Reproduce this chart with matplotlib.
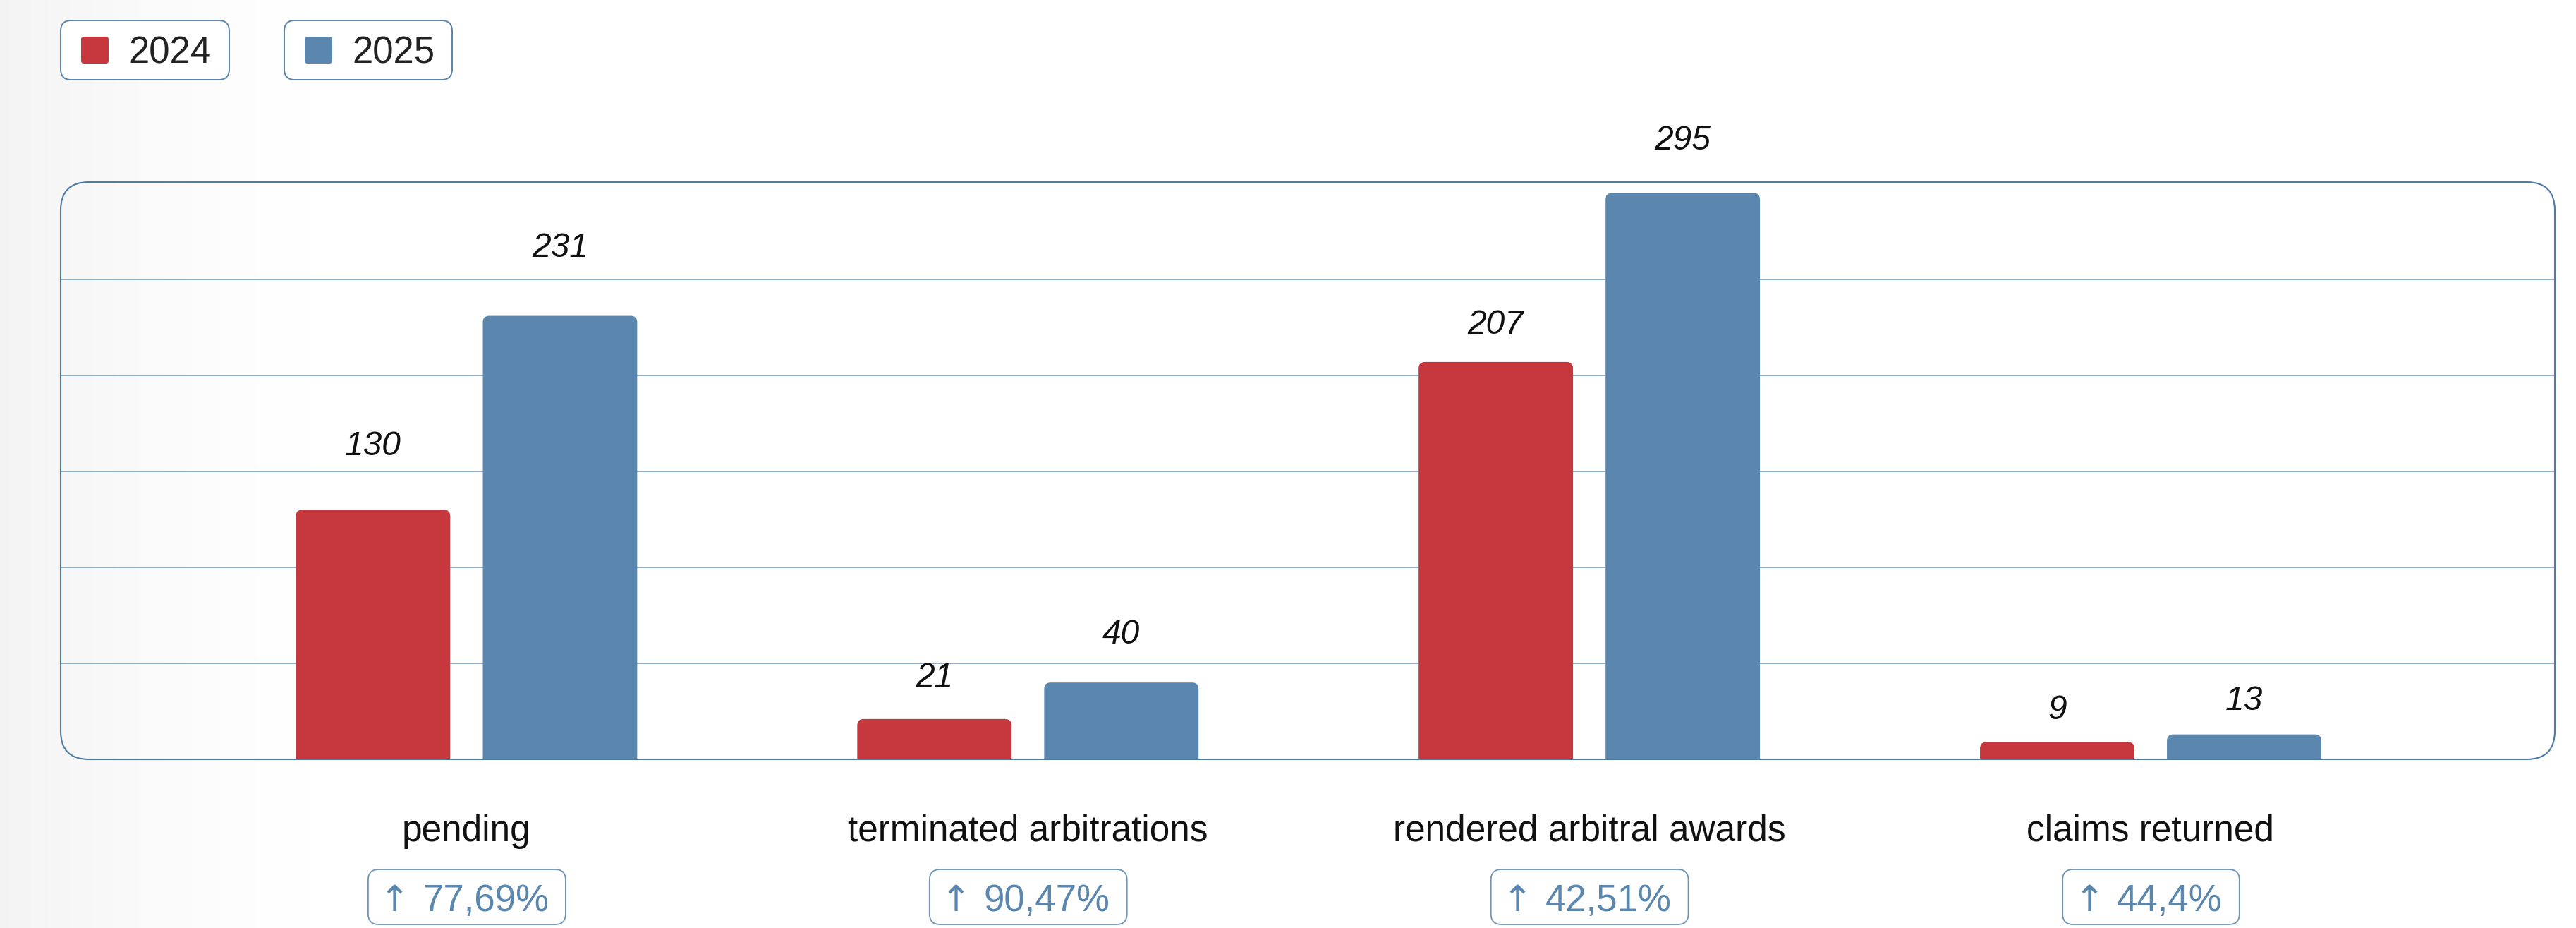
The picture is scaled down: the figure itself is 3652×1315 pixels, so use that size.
import numpy as np
import matplotlib
matplotlib.use("Agg")
import matplotlib.pyplot as plt
from matplotlib.patches import FancyBboxPatch

plt.rcParams['font.family'] = ['Liberation Sans', 'DejaVu Sans']

# data
categories = ['pending', 'terminated arbitrations', 'rendered arbitral awards', 'claims returned']
series_names = ['2024', '2025']
values_2024 = [130, 21, 207, 9]
values_2025 = [231, 40, 295, 13]
changes = ['77,69%', '90,47%', '42,51%', '44,4%']
grid_values = [50, 100, 150, 200, 250]

# style
red = '#C6383E'
blue = '#5B86AD'
frame_col = '#4F7BA4'
grid_col = '#7F9EBF'
W, H, DPI = 3652, 1315, 100

fig = plt.figure(figsize=(W / DPI, H / DPI), dpi=DPI)
fig.patch.set_facecolor('white')

# soft grey fade on the left edge
bg = fig.add_axes([0, 0, 1, 1], zorder=-10)
xs = np.linspace(0, 1, W)
fade = np.clip(xs / 0.12, 0, 1)
shade = 1 - 0.045 * (1 - fade) ** 1.4
img = np.stack([shade, shade, shade], axis=-1)[np.newaxis, :, :]
bg.imshow(np.repeat(img, 2, axis=0), extent=[0, 1, 0, 1], aspect='auto')
bg.set_xlim(0, 1)
bg.set_ylim(0, 1)
bg.axis('off')

# plot frame (pixels)
left, right, top, bottom = 86, 3622, 258, 1076
ax = fig.add_axes([left / W, (H - bottom) / H, (right - left) / W, (bottom - top) / H])
ax.set_facecolor('none')
ax_w, ax_h = right - left, bottom - top

x = np.arange(len(categories))
width = 0.275
off = 0.1665
ax.set_xlim(-0.723, 3.72)
ax.set_ylim(0, 300.7)

ax.set_yticks(grid_values)
ax.grid(axis='y', color=grid_col, linewidth=1.2)
ax.set_axisbelow(True)
ax.tick_params(left=False, bottom=False, labelleft=False, labelbottom=False)
ax.set_xticks([])
for s in ax.spines.values():
    s.set_visible(False)

# data units per pixel, for rounded bar tops
xpp = (3.72 + 0.723) / ax_w
ypp = 300.7 / ax_h
r_px = 9


def rounded_bars(container, color):
    for rect in container:
        rect.set_visible(False)
        bx, bw, bh = rect.get_x(), rect.get_width(), rect.get_height()
        rd = r_px * ypp
        p = FancyBboxPatch((bx, -rd), bw, bh + rd,
                           boxstyle=f'round,pad=0,rounding_size={r_px * xpp}',
                           mutation_aspect=ypp / xpp,
                           facecolor=color, edgecolor='none', zorder=2)
        ax.add_patch(p)


b1 = ax.bar(x - off, values_2024, width, color=red)
b2 = ax.bar(x + off, values_2025, width, color=blue)
rounded_bars(b1, red)
rounded_bars(b2, blue)

# value labels (lift above bar top, pixels)
lift_2024 = [90, 58, 52, 45]
lift_2025 = [96, 68, 74, 47]
for xi, v, l in zip(x - off, values_2024, lift_2024):
    ax.annotate(str(v), (xi, v), xytext=(0, l), textcoords='offset pixels',
                ha='center', va='center', fontsize=34.5, fontstyle='italic', color='#111111')
for xi, v, l in zip(x + off, values_2025, lift_2025):
    ax.annotate(str(v), (xi, v), xytext=(0, l), textcoords='offset pixels',
                ha='center', va='center', fontsize=34.5, fontstyle='italic', color='#111111')

# frame with rounded corners
frame = FancyBboxPatch((0, 0), 1, 1, boxstyle=f'round,pad=0,rounding_size={40 / ax_w}',
                       mutation_aspect=ax_w / ax_h, transform=ax.transAxes,
                       fill=False, edgecolor=frame_col, linewidth=1.5, clip_on=False, zorder=4)
ax.add_patch(frame)

# category labels and change badges
cat_base = -(1192 - bottom)
pct_base = -(1291 - bottom)
badges = []
for xi, cat, ch in zip(x, categories, changes):
    ax.annotate(cat, (xi, 0), xytext=(0, cat_base), textcoords='offset pixels',
                ha='center', va='baseline', fontsize=37, color='#111111',
                annotation_clip=False)
    arrow = ax.annotate('\u2191', (xi, 0), xytext=(0, pct_base), textcoords='offset pixels',
                        ha='center', va='baseline', fontsize=37, color=blue,
                        family='DejaVu Sans', annotation_clip=False)
    num = ax.annotate(ch, (xi, 0), xytext=(0, pct_base), textcoords='offset pixels',
                      ha='left', va='baseline', fontsize=38, color=blue,
                      annotation_clip=False)
    badges.append((xi, arrow, num))

fig.canvas.draw()
renderer = fig.canvas.get_renderer()
arrow_w, gap = 29, 25
for xi, arrow, num in badges:
    nw = num.get_window_extent(renderer).width
    total = arrow_w + gap + nw
    L = -total / 2
    arrow.xyann = (L + arrow_w / 2, pct_base)
    num.xyann = (L + arrow_w + gap, pct_base)
    cx = ax.transData.transform((xi, 0))[0]
    x0, x1 = cx + L - 23, cx + L + total + 24
    y0, y1 = H - 1310, H - 1232
    badge = FancyBboxPatch((x0 / W, y0 / H), (x1 - x0) / W, (y1 - y0) / H,
                           boxstyle=f'round,pad=0,rounding_size={15 / W}',
                           mutation_aspect=W / H, transform=fig.transFigure,
                           fill=False, edgecolor='#6F94B8', linewidth=1.3)
    fig.patches.append(badge)

# legend chips
legend_boxes = [(86, 325), (403, 641)]
colors = [red, blue]
for (bx0, bx1), name, col in zip(legend_boxes, series_names, colors):
    box = FancyBboxPatch((bx0 / W, (H - 113) / H), (bx1 - bx0) / W, 84 / H,
                         boxstyle=f'round,pad=0,rounding_size={15 / W}',
                         mutation_aspect=W / H, transform=fig.transFigure,
                         facecolor='white', edgecolor='#5A84AB', linewidth=1.4)
    fig.patches.append(box)
    sw = FancyBboxPatch(((bx0 + 29) / W, (H - 90) / H), 39 / W, 38 / H,
                        boxstyle=f'round,pad=0,rounding_size={4 / W}',
                        mutation_aspect=W / H, transform=fig.transFigure,
                        facecolor=col, edgecolor='none')
    fig.patches.append(sw)
    fig.text((bx0 + 96) / W, (H - 89) / H, name, ha='left', va='baseline',
             fontsize=38, color='#222222')

fig.savefig('out.png', dpi=DPI)
